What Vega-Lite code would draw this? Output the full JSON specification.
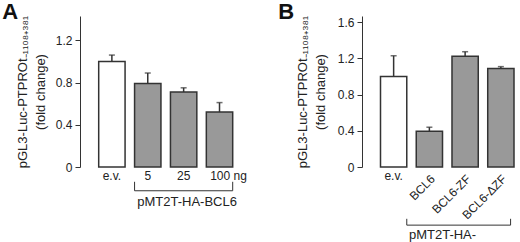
{
  "$schema": "https://vega.github.io/schema/vega-lite/v6.json",
  "padding": {"left": 2, "top": 1, "right": 0, "bottom": 0},
  "background": "white",
  "config": {
    "view": {"stroke": null},
    "font": "Liberation Sans",
    "concat": {"spacing": 31},
    "axis": {
      "labelFont": "Liberation Sans", "titleFont": "Liberation Sans",
      "labelColor": "#222", "titleColor": "#222",
      "domainColor": "#333", "tickColor": "#333", "labelOverlap": false,
      "grid": false, "labelFontSize": 12, "titleFontSize": 13, "titleFontWeight": "normal"
    }
  },
  "datasets": {
    "a": [
      {"cat": "e.v.", "value": 1.0, "hi": 1.06},
      {"cat": "5", "value": 0.79, "hi": 0.89},
      {"cat": "25", "value": 0.71, "hi": 0.75},
      {"cat": "100 ng", "value": 0.52, "hi": 0.61}
    ],
    "b": [
      {"cat": "e.v.", "value": 1.0, "hi": 1.23},
      {"cat": "BCL6", "value": 0.395, "hi": 0.44},
      {"cat": "BCL6-ZF", "value": 1.225, "hi": 1.275},
      {"cat": "BCL6-ΔZF", "value": 1.09, "hi": 1.11}
    ],
    "ba": [{"from": "5", "to": "100 ng", "mid": "25", "label": "pMT2T-HA-BCL6"}],
    "bb": [{"from": "e.v.", "to": "BCL6-ΔZF", "mid": "BCL6", "label": "pMT2T-HA-"}]
  },
  "hconcat": [
    {
      "width": 155, "height": 151,
      "title": {"text": "A", "anchor": "start", "frame": "bounds", "fontSize": 22, "fontWeight": "bold", "font": "Liberation Sans", "color": "#111", "offset": -9, "dx": -14},
      "data": {"name": "a"},
      "layer": [
        {
          "mark": {"type": "bar", "stroke": "#333", "strokeWidth": 1.5},
          "encoding": {
            "x": {"field": "cat", "type": "nominal", "sort": null,
              "scale": {"domain": ["e.v.", "5", "25", "100 ng"], "range": [18.7, 152.7], "paddingInner": 0.265, "paddingOuter": 0},
              "axis": {"title": null, "labelAngle": 0, "domain": false, "ticks": false, "labelPadding": 3,
                "labelOffset": {"condition": {"test": "datum.value === '100 ng'", "value": 9}, "value": 0}}},
            "y": {"field": "value", "type": "quantitative",
              "scale": {"domain": [0, 1.43], "nice": false},
              "axis": {"values": [0, 0.4, 0.8, 1.2], "tickCount": 10, "labelOverlap": false, "title": ["pGL3-Luc-PTPROt₋₁₁₀₈₊₃₈₁", "(fold change)"],
                "labelExpr": "datum.value == 0 ? '0' : format(datum.value, '.1f')",
                "tickSize": 5, "labelPadding": 3, "titlePadding": 8, "titleLineHeight": 18}},
            "fill": {"condition": {"test": "datum.cat === 'e.v.'", "value": "white"}, "value": "#999999"}
          }
        },
        {
          "mark": {"type": "rule", "color": "#333", "strokeWidth": 1.5},
          "encoding": {
            "x": {"field": "cat", "type": "nominal", "sort": null},
            "y": {"field": "value", "type": "quantitative"},
            "y2": {"field": "hi"}
          }
        },
        {
          "mark": {"type": "tick", "color": "#333", "thickness": 1.5, "size": 6, "orient": "horizontal"},
          "encoding": {
            "x": {"field": "cat", "type": "nominal", "sort": null},
            "y": {"field": "hi", "type": "quantitative"}
          }
        },
        {
          "data": {"name": "ba"},
          "mark": {"type": "rule", "color": "#333", "strokeWidth": 1},
          "encoding": {
            "x": {"field": "from", "type": "nominal", "bandPosition": 0},
            "x2": {"field": "to", "bandPosition": 1},
            "y": {"datum": -0.225, "type": "quantitative"}
          }
        },
        {
          "data": {"name": "ba"},
          "mark": {"type": "rule", "color": "#333", "strokeWidth": 1},
          "encoding": {
            "x": {"field": "from", "type": "nominal", "bandPosition": 0},
            "y": {"datum": -0.14, "type": "quantitative"},
            "y2": {"datum": -0.225}
          }
        },
        {
          "data": {"name": "ba"},
          "mark": {"type": "rule", "color": "#333", "strokeWidth": 1},
          "encoding": {
            "x": {"field": "to", "type": "nominal", "bandPosition": 1},
            "y": {"datum": -0.14, "type": "quantitative"},
            "y2": {"datum": -0.225}
          }
        },
        {
          "data": {"name": "ba"},
          "mark": {"type": "text", "fontSize": 13, "color": "#222", "baseline": "middle", "align": "center"},
          "encoding": {
            "x": {"field": "mid", "type": "nominal", "bandPosition": 0.63},
            "y": {"datum": -0.33, "type": "quantitative"},
            "text": {"field": "label"}
          }
        }
      ]
    },
    {
      "width": 153, "height": 151,
      "title": {"text": "B", "anchor": "start", "frame": "bounds", "fontSize": 22, "fontWeight": "bold", "font": "Liberation Sans", "color": "#111", "offset": -9, "dx": -18},
      "data": {"name": "b"},
      "layer": [
        {
          "mark": {"type": "bar", "stroke": "#333", "strokeWidth": 1.5},
          "encoding": {
            "x": {"field": "cat", "type": "nominal", "sort": null,
              "scale": {"domain": ["e.v.", "BCL6", "BCL6-ZF", "BCL6-ΔZF"], "range": [18.5, 152], "paddingInner": 0.265, "paddingOuter": 0},
              "axis": {"title": null, "labelAngle": -45, "domain": false, "ticks": false, "labelPadding": 6,
                "labelExpr": "datum.value === 'e.v.' ? '' : datum.value"}},
            "y": {"field": "value", "type": "quantitative",
              "scale": {"domain": [0, 1.67], "nice": false},
              "axis": {"values": [0, 0.4, 0.8, 1.2, 1.6], "tickCount": 10, "labelOverlap": false, "title": ["pGL3-Luc-PTPROt₋₁₁₀₈₊₃₈₁", "(fold change)"],
                "labelExpr": "datum.value == 0 ? '0' : format(datum.value, '.1f')",
                "tickSize": 5, "labelPadding": 3, "titlePadding": 10, "titleLineHeight": 18}},
            "fill": {"condition": {"test": "datum.cat === 'e.v.'", "value": "white"}, "value": "#999999"}
          }
        },
        {
          "mark": {"type": "rule", "color": "#333", "strokeWidth": 1.5},
          "encoding": {
            "x": {"field": "cat", "type": "nominal", "sort": null},
            "y": {"field": "value", "type": "quantitative"},
            "y2": {"field": "hi"}
          }
        },
        {
          "mark": {"type": "tick", "color": "#333", "thickness": 1.5, "size": 6, "orient": "horizontal"},
          "encoding": {
            "x": {"field": "cat", "type": "nominal", "sort": null},
            "y": {"field": "hi", "type": "quantitative"}
          }
        },
        {
          "transform": [{"filter": "datum.cat === 'e.v.'"}],
          "mark": {"type": "text", "fontSize": 12, "color": "#222", "baseline": "top", "align": "center"},
          "encoding": {
            "x": {"field": "cat", "type": "nominal", "sort": null},
            "y": {"datum": -0.04, "type": "quantitative"},
            "text": {"field": "cat"}
          }
        },
        {
          "data": {"name": "bb"},
          "mark": {"type": "rule", "color": "#333", "strokeWidth": 1},
          "encoding": {
            "x": {"field": "from", "type": "nominal", "bandPosition": 1},
            "x2": {"field": "to", "bandPosition": 0.87},
            "y": {"datum": -0.643, "type": "quantitative"}
          }
        },
        {
          "data": {"name": "bb"},
          "mark": {"type": "rule", "color": "#333", "strokeWidth": 1},
          "encoding": {
            "x": {"field": "from", "type": "nominal", "bandPosition": 1},
            "y": {"datum": -0.573, "type": "quantitative"},
            "y2": {"datum": -0.643}
          }
        },
        {
          "data": {"name": "bb"},
          "mark": {"type": "rule", "color": "#333", "strokeWidth": 1},
          "encoding": {
            "x": {"field": "to", "type": "nominal", "bandPosition": 0.87},
            "y": {"datum": -0.573, "type": "quantitative"},
            "y2": {"datum": -0.643}
          }
        },
        {
          "data": {"name": "bb"},
          "mark": {"type": "text", "fontSize": 13, "color": "#222", "baseline": "middle", "align": "center"},
          "encoding": {
            "x": {"field": "mid", "type": "nominal", "bandPosition": 1},
            "y": {"datum": -0.754, "type": "quantitative"},
            "text": {"field": "label"}
          }
        }
      ]
    }
  ]
}
